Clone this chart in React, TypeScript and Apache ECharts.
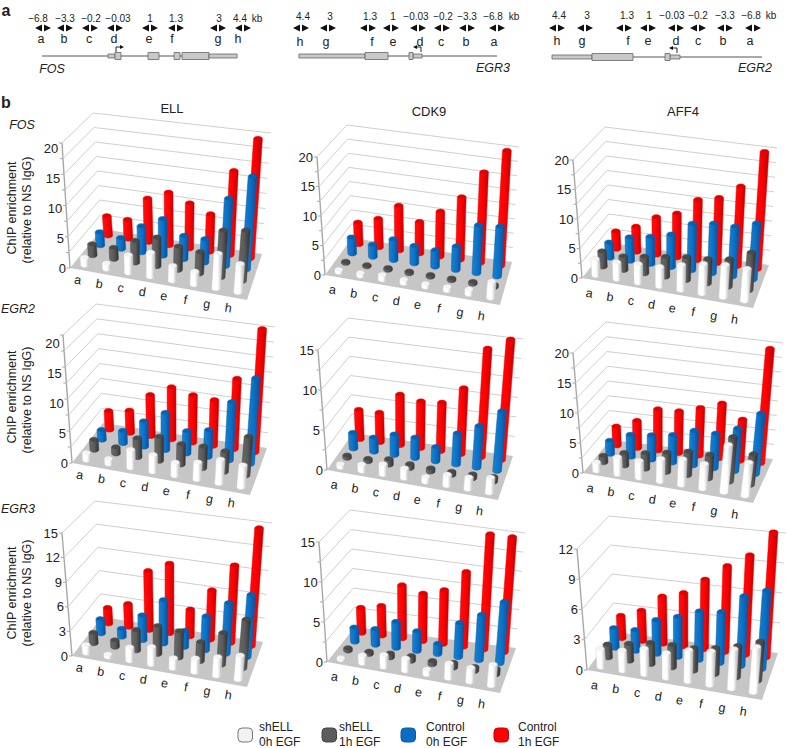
import { useEffect, useRef } from 'react';
import * as echarts from 'echarts';

const FONT = '"Liberation Sans", Arial, sans-serif';
const TEXT = '#222';

const categories = ['a', 'b', 'c', 'd', 'e', 'f', 'g', 'h'];

// each panel: shELL 0h, shELL 1h, Control 0h, Control 1h
const ellFos = [
    [1.2, 0.9, 2.8, 3.8, 2.3, 2.0, 5.3, 4.3],
    [1.8, 1.8, 3.5, 4.6, 3.7, 3.4, 7.3, 7.8],
    [2.2, 1.8, 4.3, 6.0, 3.8, 3.8, 10.8, 14.8],
    [3.3, 3.2, 7.3, 8.8, 7.5, 6.2, 13.8, 19.5]
];
const cdk9Fos = [
    [0.4, 0.5, 0.8, 0.6, 0.5, 0.6, 0.8, 2.6],
    [0.2, 0.2, 0.3, 0.3, 0.3, 0.3, 0.3, 0.4],
    [2.8, 2.1, 3.6, 3.0, 2.8, 4.0, 8.1, 8.4],
    [3.8, 5.0, 7.8, 5.5, 7.8, 10.8, 15.6, 19.8]
];
const aff4Fos = [
    [2.8, 2.8, 3.1, 3.2, 4.1, 4.8, 5.2, 5.1],
    [2.6, 2.3, 2.8, 3.3, 3.8, 4.0, 4.5, 6.1],
    [2.6, 4.0, 4.6, 5.5, 7.8, 8.3, 8.3, 9.3],
    [3.0, 4.3, 6.4, 7.5, 10.3, 11.1, 13.5, 19.8]
];
const ellEgr2 = [
    [1.1, 0.8, 2.8, 2.6, 2.0, 2.6, 3.6, 3.3],
    [1.6, 1.0, 3.0, 3.8, 3.2, 3.4, 3.2, 6.0],
    [1.6, 2.0, 4.1, 6.0, 3.6, 4.3, 9.3, 13.6],
    [3.1, 3.7, 6.8, 8.6, 7.8, 7.5, 11.5, 20.1]
];
const cdk9Egr2 = [
    [0.4, 0.8, 1.3, 1.2, 0.6, 1.3, 1.4, 1.8],
    [0.3, 0.3, 0.7, 0.5, 0.4, 0.4, 0.5, 0.6],
    [2.0, 1.8, 2.6, 2.6, 1.8, 3.9, 5.2, 7.4],
    [3.8, 3.8, 6.5, 6.0, 6.2, 8.4, 13.8, 15.3]
];
const aff4Egr2 = [
    [1.4, 2.8, 2.8, 3.7, 4.2, 4.0, 7.6, 5.3],
    [1.1, 2.1, 2.6, 3.2, 3.9, 3.9, 7.3, 5.0],
    [2.2, 3.7, 4.1, 4.6, 5.8, 5.8, 7.1, 10.1],
    [3.2, 4.6, 7.0, 7.1, 8.1, 9.3, 7.0, 19.5]
];
const ellEgr3 = [
    [1.0, 0.3, 1.6, 2.1, 1.2, 1.6, 2.2, 2.8],
    [1.3, 0.8, 2.5, 3.4, 3.2, 2.3, 3.8, 5.8],
    [1.8, 1.0, 3.1, 5.4, 2.0, 4.2, 6.2, 7.6],
    [2.0, 2.9, 7.5, 8.8, 3.4, 6.2, 9.7, 14.7]
];
const cdk9Egr3 = [
    [0.2, 1.0, 1.5, 1.5, 0.6, 1.8, 1.7, 2.5],
    [0.3, 0.3, 0.5, 0.6, 0.4, 0.6, 0.5, 0.7],
    [1.8, 2.0, 3.3, 2.5, 1.3, 4.3, 5.7, 7.7],
    [3.2, 3.8, 6.8, 6.1, 6.9, 9.6, 14.8, 14.8]
];
const aff4Egr3 = [
    [1.8, 2.0, 2.5, 2.4, 3.0, 3.2, 3.7, 4.2],
    [1.3, 1.7, 2.1, 2.2, 2.2, 2.5, 3.0, 3.7],
    [2.0, 2.1, 3.4, 4.0, 4.8, 5.0, 6.8, 7.6],
    [2.3, 3.1, 4.8, 5.4, 7.0, 8.6, 9.9, 12.4]
];

const ticks20 = [0, 5, 10, 15, 20];
const ticks15 = [0, 5, 10, 15];
const ticks15by3 = [0, 3, 6, 9, 12, 15];
const ticks12 = [0, 3, 6, 9, 12];
const lines20 = [0, 2.5, 5, 7.5, 10, 12.5, 15, 17.5, 20];
const lines15 = [0, 2.5, 5, 7.5, 10, 12.5, 15];

// the box of each 3D panel as drawn: floor and top corners [front-left, front-right, back-right, back-left]
const panels = [
    {
        values: ellFos, ticks: ticks20, lines: lines20, labelScale: 0.96, catDy: 10,
        floor: [[70, 268], [247, 300], [262, 254], [102, 229]],
        top: [[62, 143], [259, 165], [271, 133], [93, 113]]
    },
    {
        values: cdk9Fos, ticks: ticks20, lines: lines20, labelScale: 1, catDy: 13,
        floor: [[325, 275], [500, 305], [512, 262], [352, 238]],
        top: [[317, 157], [510, 178], [519, 147], [347, 125]]
    },
    {
        values: aff4Fos, ticks: ticks20, lines: lines20, labelScale: 1, catDy: 13.5,
        floor: [[582, 278], [753, 308], [769, 265], [610, 243]],
        top: [[573, 160], [765, 180], [777, 148], [605, 127]]
    },
    {
        values: ellEgr2, ticks: ticks20, lines: lines20, labelScale: 0.93, catDy: 10,
        floor: [[72, 463], [250, 495], [267, 448], [103, 423]],
        top: [[63, 335], [263, 360], [275, 327], [96, 304]]
    },
    {
        values: cdk9Egr2, ticks: ticks15, lines: lines15, labelScale: 1, catDy: 13,
        floor: [[327, 470], [498, 500], [513, 456], [353, 433]],
        top: [[318, 350], [511, 372], [523, 339], [348, 318]]
    },
    {
        values: aff4Egr2, ticks: ticks20, lines: lines20, labelScale: 1, catDy: 13.5,
        floor: [[583, 473], [753, 503], [773, 459], [610, 440]],
        top: [[573, 353], [771, 376], [783, 343], [606, 322]]
    },
    {
        values: ellEgr3, ticks: ticks15by3, lines: ticks15by3, labelScale: 1, catDy: 10,
        floor: [[72, 656], [247, 687], [263, 642], [102, 617]],
        top: [[62, 533], [260, 556], [272, 523], [95, 501]]
    },
    {
        values: cdk9Egr3, ticks: ticks15, lines: lines15, labelScale: 1, catDy: 13,
        floor: [[327, 662], [500, 693], [516, 648], [355, 627]],
        top: [[319, 542], [513, 565], [525, 533], [350, 510]]
    },
    {
        values: aff4Egr3, ticks: ticks12, lines: ticks12, labelScale: 1, catDy: 13.5,
        floor: [[587, 670], [762, 700], [778, 653], [615, 632]],
        top: [[577, 549], [774, 568], [786, 533], [609, 516]]
    }
];

const rowDepth = [0.125, 0.375, 0.625, 0.875];
const rowColors = [
    { left: '#ffffff', mid: '#ffffff', right: '#b4b4b4', cap: '#f4f4f4', stroke: '#cfcfcf' },
    { left: '#6a6a6a', mid: '#5a5a5a', right: '#303030', cap: '#4a4a4a', stroke: '#444444' },
    { left: '#1a80d0', mid: '#0a70c4', right: '#0a4f96', cap: '#0a60ae', stroke: '#0a5ca8' },
    { left: '#ff1010', mid: '#ff0000', right: '#c00000', cap: '#e00000', stroke: '#dd0000' }
];

const bilerp = (q: number[][], u: number, v: number) => {
    const fx = q[0][0] + (q[1][0] - q[0][0]) * u;
    const fy = q[0][1] + (q[1][1] - q[0][1]) * u;
    const bx = q[3][0] + (q[2][0] - q[3][0]) * u;
    const by = q[3][1] + (q[2][1] - q[3][1]) * u;
    return [fx + (bx - fx) * v, fy + (by - fy) * v];
};

const project = (panel: any, u: number, v: number, t: number) => {
    const a = bilerp(panel.floor, u, v);
    const b = bilerp(panel.top, u, v);
    return [a[0] + (b[0] - a[0]) * t, a[1] + (b[1] - a[1]) * t];
};

const capsule = (b: number[], t: number[], hw: number, ry: number) => {
    const pts: number[][] = [];
    for (let i = 0; i <= 10; i++) {
        const a = Math.PI * (i / 10);
        pts.push([b[0] - hw * Math.cos(a), b[1] + ry * Math.sin(a)]);
    }
    for (let i = 0; i <= 10; i++) {
        const a = Math.PI * (i / 10);
        pts.push([t[0] + hw * Math.cos(a), t[1] - ry * Math.sin(a)]);
    }
    return pts;
};

const renderFrame = (panel: any) => (params: any, api: any) => {
    const cs = params.coordSys;
    const val = api.value(1);
    const t = (cs.y + cs.height - api.coord([0, val])[1]) / cs.height;
    const a = project(panel, 0, 0, t);
    const b = project(panel, 0, 1, t);
    const c = project(panel, 1, 1, t);
    const children: any[] = [];
    if (val === 0) {
        children.push({
            type: 'polygon',
            shape: { points: panel.floor },
            style: { fill: '#c6c6c6', stroke: 'none' }
        });
        children.push({
            type: 'line',
            shape: { x1: a[0], y1: a[1], x2: panel.top[0][0], y2: panel.top[0][1] },
            style: { stroke: '#a8a8a8', lineWidth: 1.4 }
        });
    } else {
        children.push({
            type: 'polyline',
            shape: { points: [a, b, c] },
            style: { stroke: '#cfcfcf', lineWidth: 1, fill: 'none' }
        });
    }
    children.push({
        type: 'line',
        shape: { x1: a[0] - 3, y1: a[1], x2: a[0], y2: a[1] },
        style: { stroke: '#a8a8a8', lineWidth: 1 }
    });
    if (panel.ticks.includes(val)) {
        const at = project(panel, 0, 0, t * panel.labelScale);
        children.push({
            type: 'text',
            style: {
                text: String(val),
                x: at[0] - 4,
                y: at[1],
                align: 'right',
                verticalAlign: 'middle',
                font: `13px ${FONT}`,
                fill: TEXT
            }
        });
    }
    return { type: 'group', children };
};

const renderBar = (panel: any) => (params: any, api: any) => {
    const cs = params.coordSys;
    const pt = api.coord([api.value(0), api.value(1)]);
    const row = api.value(2);
    const u = (pt[0] - cs.x) / cs.width;
    const t = (cs.y + cs.height - pt[1]) / cs.height;
    const base = project(panel, u, rowDepth[row], 0);
    const head = project(panel, u, rowDepth[row], t);
    const col = rowColors[row];
    const hw = 4.4;
    const ry = 2.5;
    return {
        type: 'group',
        children: [
            {
                type: 'polygon',
                shape: { points: capsule(base, head, hw, ry) },
                style: {
                    fill: new echarts.graphic.LinearGradient(0, 0, 1, 0, [
                        { offset: 0, color: col.left },
                        { offset: 0.55, color: col.mid },
                        { offset: 1, color: col.right }
                    ]),
                    stroke: col.stroke,
                    lineWidth: 0.5
                }
            },
            {
                type: 'ellipse',
                shape: { cx: head[0], cy: head[1], rx: hw - 0.6, ry: ry - 0.5 },
                style: { fill: col.cap, stroke: 'none' }
            }
        ]
    };
};

const renderCategory = (panel: any) => (params: any, api: any) => {
    const cs = params.coordSys;
    const pt = api.coord([api.value(0), 0]);
    const u = (pt[0] - cs.x) / cs.width;
    const p = project(panel, u, 0, 0);
    return {
        type: 'text',
        x: p[0] - 3 - 5 * u,
        y: p[1] + panel.catDy,
        rotation: -0.16,
        style: {
            text: categories[api.value(0)],
            align: 'center',
            verticalAlign: 'middle',
            font: `12.5px ${FONT}`,
            fill: TEXT
        }
    };
};

const label = (text: string, x: number, y: number, font: string, extra: any = {}) => ({
    type: 'text',
    x,
    y,
    rotation: extra.rotation || 0,
    silent: true,
    style: {
        text,
        font: `${font} ${FONT}`,
        fill: TEXT,
        align: extra.align || 'center',
        verticalAlign: 'middle'
    }
});

const primer = (x: number, y: number) => [
    {
        type: 'polygon',
        shape: { points: [[x - 8, y], [x - 1, y - 3.6], [x - 1, y + 3.6]] },
        style: { fill: '#111' }
    },
    {
        type: 'polygon',
        shape: { points: [[x + 8, y], [x + 1, y - 3.6], [x + 1, y + 3.6]] },
        style: { fill: '#111' }
    }
];

const exon = (x1: number, x2: number, y: number, h: number) => ({
    type: 'rect',
    shape: { x: x1, y: y - h / 2, width: x2 - x1, height: h },
    style: { fill: '#c8c8c8', stroke: '#666', lineWidth: 0.8 }
});

const geneLine = (x1: number, x2: number, y: number) => ({
    type: 'line',
    shape: { x1, y1: y, x2, y2: y },
    style: { stroke: '#555', lineWidth: 1 }
});

const tss = (x: number, y: number, dir: number) => [
    {
        type: 'polyline',
        shape: { points: [[x, y - 3], [x, y - 8], [x + dir * 5, y - 8]] },
        style: { stroke: '#111', lineWidth: 0.9, fill: 'none' }
    },
    {
        type: 'polygon',
        shape: { points: [[x + dir * 8, y - 8], [x + dir * 4, y - 10], [x + dir * 4, y - 6]] },
        style: { fill: '#111' }
    }
];

// text and arrow positions of the gene maps in panel a
const distances = ['\u22126.8', '\u22123.3', '\u22120.2', '\u22120.03', '1', '1.3', '3', '4.4'];
const fosDistanceX = [38, 65, 91, 118, 150, 176, 219, 240];
const fosPrimerX = [43, 65, 90, 115, 150, 176, 218, 243];
const fosLetterX = [41, 64, 89, 114, 149, 172, 218, 238];
const egr3DistanceX = [493, 467, 443, 416, 393, 370, 330, 303];
const egr3PrimerX = [497, 467, 442, 418, 391, 368, 328, 301];
const egr3LetterX = [494, 466, 441, 420, 393, 372, 326, 300];
const egr2DistanceX = [751, 725, 698, 672, 649, 627, 587, 559];
const egr2PrimerX = [753, 725, 698, 676, 648, 624, 585, 557];
const egr2LetterX = [750, 723, 698, 676, 648, 628, 582, 557];

const geneMap = (distanceX: number[], primerX: number[], letterX: number[], kbX: number, topY: number, letterY: number) => [
    ...distances.map((d, i) => label(d, distanceX[i], topY, '10px')),
    label('kb', kbX, topY, '10px'),
    ...primerX.flatMap((x) => primer(x, 28)),
    ...categories.map((c, i) => label(c, letterX[i], letterY, '12.5px'))
];

const legendItems = [
    { fill: '#f2f2f2', stroke: '#777', x: 238, textX: 259, lines: ['shELL', '0h EGF'] },
    { fill: '#5c5c5c', stroke: '#444', x: 322, textX: 339, lines: ['shELL', '1h EGF'] },
    { fill: '#0a6cc4', stroke: '#0a5ca8', x: 401, textX: 426, lines: ['Control', '0h EGF'] },
    { fill: '#ff0000', stroke: '#cc0000', x: 494, textX: 518, lines: ['Control', '1h EGF'] }
];

const yTitleRows = [
    { y1: 208, y2: 210 },
    { y1: 397, y2: 400 },
    { y1: 593, y2: 593 }
];

const buildGraphics = () => [
    label('a', 6, 10, 'bold 16px'),
    label('b', 6, 102, 'bold 16px'),

    ...geneMap(fosDistanceX, fosPrimerX, fosLetterX, 257, 18, 39),
    geneLine(42, 237, 56),
    exon(108, 115, 56, 4),
    exon(115, 121, 56, 7),
    exon(148, 159, 56, 7),
    exon(174, 180, 56, 7),
    exon(182, 209, 56, 7),
    exon(209, 237, 56, 4),
    ...tss(116, 55, 1),
    label('FOS', 52, 69, 'italic 12.5px'),

    ...geneMap(egr3DistanceX, egr3PrimerX, egr3LetterX, 514, 16, 42),
    geneLine(365, 497, 56),
    exon(299, 365, 56, 4),
    exon(365, 388, 56, 7),
    exon(413, 422, 56, 4),
    exon(409, 413, 56, 7),
    ...tss(421, 55, -1),
    label('EGR3', 493, 68, 'italic 12.5px'),

    ...geneMap(egr2DistanceX, egr2PrimerX, egr2LetterX, 771, 15, 41),
    geneLine(633, 762, 57),
    exon(552, 592, 57, 4),
    exon(592, 633, 57, 7),
    exon(670, 680, 57, 4),
    exon(665, 670, 57, 7),
    ...tss(677, 56, -1),
    label('EGR2', 755, 68, 'italic 12.5px'),

    label('ELL', 172, 108, '13px'),
    label('CDK9', 429, 111, '13px'),
    label('AFF4', 683, 111, '13px'),
    label('FOS', 22, 125, 'italic 12.5px'),
    label('EGR2', 18, 309, 'italic 12.5px'),
    label('EGR3', 18, 509, 'italic 12.5px'),

    ...yTitleRows.flatMap((r) => [
        label('ChIP enrichment', 12, r.y1, '12.5px', { rotation: Math.PI / 2 }),
        label('(relative to NS IgG)', 27, r.y2, '12.5px', { rotation: Math.PI / 2 })
    ]),

    ...legendItems.flatMap((item) => [
        {
            type: 'rect',
            shape: { x: item.x, y: 728, width: 14.5, height: 14, r: 4 },
            style: { fill: item.fill, stroke: item.stroke, lineWidth: 1 }
        },
        label(item.lines[0], item.textX, 727, '12px', { align: 'left' }),
        label(item.lines[1], item.textX, 742, '12px', { align: 'left' })
    ])
];

const App = () => {
    const chartRef = useRef<HTMLDivElement>(null);

    useEffect(() => {
        if (!chartRef.current) return;
        document.body.style.margin = '0';
        const chart = echarts.init(chartRef.current, undefined, { renderer: 'svg' });

        const grid: any[] = [];
        const xAxis: any[] = [];
        const yAxis: any[] = [];
        const series: any[] = [];

        panels.forEach((panel, i) => {
            const corners = [...panel.floor, ...panel.top];
            const xs = corners.map((c) => c[0]);
            const ys = corners.map((c) => c[1]);
            const left = Math.min(...xs);
            const top = Math.min(...ys);
            grid.push({
                left,
                top,
                width: Math.max(...xs) - left,
                height: Math.max(...ys) - top
            });
            xAxis.push({ type: 'category', gridIndex: i, data: categories, show: false });
            yAxis.push({
                type: 'value',
                gridIndex: i,
                min: 0,
                max: panel.ticks[panel.ticks.length - 1],
                show: false
            });

            const barRows: number[][] = [];
            for (let row = 3; row >= 0; row--) {
                panel.values[row].forEach((v, c) => barRows.push([c, v, row]));
            }
            const base = { type: 'custom', xAxisIndex: i, yAxisIndex: i, silent: true, clip: false };
            series.push({
                ...base,
                z: 1,
                renderItem: renderFrame(panel),
                encode: { x: 0, y: 1 },
                data: panel.lines.map((v) => [0, v])
            });
            series.push({
                ...base,
                z: 2,
                renderItem: renderBar(panel),
                encode: { x: 0, y: 1 },
                data: barRows
            });
            series.push({
                ...base,
                z: 3,
                renderItem: renderCategory(panel),
                encode: { x: 0, y: 1 },
                data: categories.map((_, c) => [c, 0])
            });
        });

        chart.setOption({
            animation: false,
            backgroundColor: '#fff',
            tooltip: { show: false },
            grid,
            xAxis,
            yAxis,
            series,
            graphic: { elements: buildGraphics() }
        });

        return () => {
            chart.dispose();
        };
    }, []);

    return <div ref={chartRef} style={{ width: 788, height: 748 }} />;
};

export default App;
